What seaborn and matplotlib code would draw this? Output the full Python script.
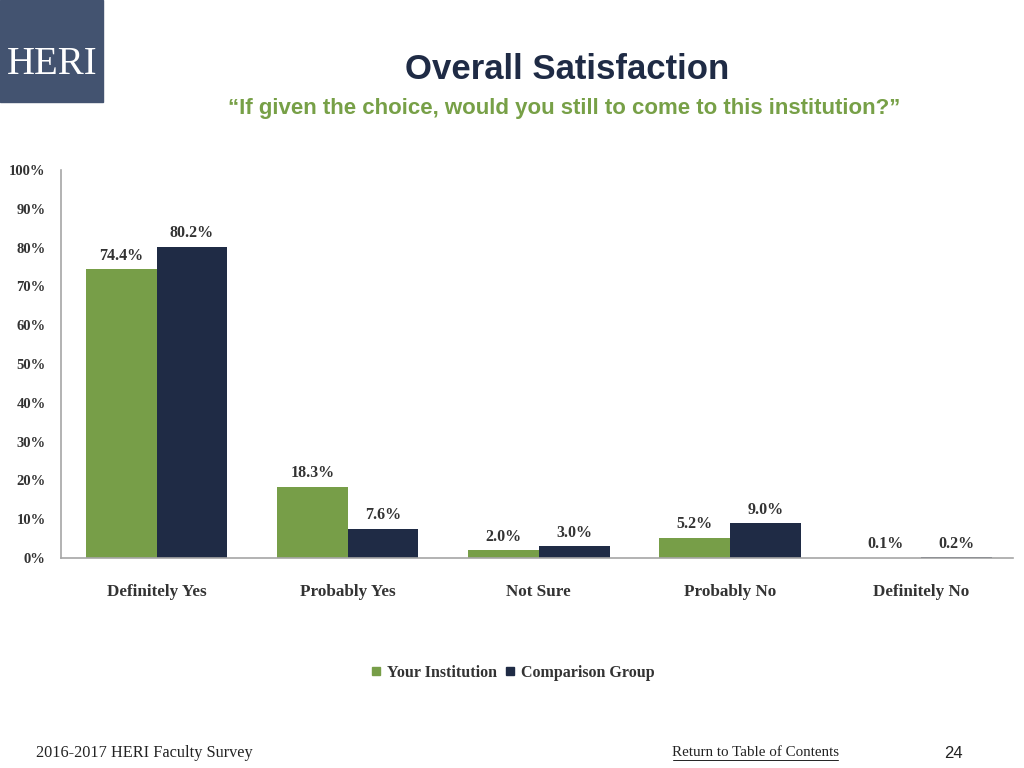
import pandas as pd
import numpy as np
import matplotlib
matplotlib.use('Agg')
import matplotlib.pyplot as plt
import seaborn as sns
from matplotlib.patches import Rectangle
from matplotlib.lines import Line2D

categories = ['Definitely Yes', 'Probably Yes', 'Not Sure', 'Probably No', 'Definitely No']
your_institution = [74.4, 18.3, 2.0, 5.2, 0.1]
comparison_group = [80.2, 7.6, 3.0, 9.0, 0.2]
series_names = ['Your Institution', 'Comparison Group']
y_ticks = [0, 10, 20, 30, 40, 50, 60, 70, 80, 90, 100]

green = '#779E48'
navy = '#1F2B45'

df = pd.DataFrame({
    'Response': categories * 2,
    'Percent': your_institution + comparison_group,
    'Group': [series_names[0]] * 5 + [series_names[1]] * 5,
})

sns.set_theme(style='white')
plt.rcParams['font.family'] = ['Liberation Serif', 'DejaVu Serif']

fig = plt.figure(figsize=(10.24, 7.68), dpi=100)
ax = fig.add_axes([0.0596, 0.2734, 0.9294, 0.5052])

sns.barplot(data=df, x='Response', y='Percent', hue='Group', order=categories,
            hue_order=series_names, palette=[green, navy], saturation=1,
            width=0.74, gap=0, linewidth=0, legend=False, ax=ax)

for cont in ax.containers:
    ax.bar_label(cont, fmt='%.1f%%', padding=4, fontsize=11.5,
                 fontweight='bold', color='#333333')

ax.set_ylim(0, 100)
ax.set_xlim(-0.5, 4.48)
ax.set_yticks(y_ticks)
ax.set_yticklabels([f'{t}%' for t in y_ticks], fontsize=10.5, fontweight='bold', color='#333333')
ax.tick_params(axis='x', labelsize=12.3, pad=18.5, colors='#333333', length=0)
ax.tick_params(axis='y', pad=11, length=0)
for lbl in ax.get_xticklabels():
    lbl.set_fontweight('bold')
ax.set_xlabel('')
ax.set_ylabel('')
for s in ['top', 'right']:
    ax.spines[s].set_visible(False)
for s in ['left', 'bottom']:
    ax.spines[s].set_color('#A6A6A6')
    ax.spines[s].set_linewidth(1.2)

# legend
handles = [Line2D([], [], marker='s', linestyle='', color=green, markersize=5.5),
           Line2D([], [], marker='s', linestyle='', color=navy, markersize=5.5)]
fig.legend(handles, series_names, loc='center', bbox_to_anchor=(0.5, 0.124), ncol=2,
           frameon=False, handletextpad=0.3, columnspacing=0.4, handlelength=0.8,
           prop={'family': 'Liberation Serif', 'weight': 'bold', 'size': 11.5},
           labelcolor='#333333')

# logo box
fig.patches.append(Rectangle((0, 1 - 102 / 768), 103 / 1024, 102 / 768,
                             transform=fig.transFigure, color='#435370', zorder=0))
fig.text(52 / 1024, 1 - 64 / 768, 'HERI', ha='center', va='center', color='white',
         fontsize=28, family='Liberation Serif')

# titles
fig.text(0.554, 1 - 69.5 / 768, 'Overall Satisfaction', ha='center', va='center',
         fontsize=25, fontweight='bold', color='#1F2B45',
         family=['Liberation Sans Narrow', 'Liberation Sans', 'DejaVu Sans'])
fig.text(0.551, 1 - 108.5 / 768, '\u201cIf given the choice, would you still to come to this institution?\u201d',
         ha='center', va='center', fontsize=16, fontweight='bold', color='#77A047',
         family=['Liberation Sans Narrow', 'Liberation Sans', 'DejaVu Sans'])

# footer
fig.text(36 / 1024, 1 - 753 / 768, '2016-2017 HERI Faculty Survey', ha='left', va='center',
         fontsize=11.7, color='#222222', family='Liberation Serif')
fig.text(755.5 / 1024, 1 - 753 / 768, 'Return to Table of Contents', ha='center', va='center',
         fontsize=10.8, color='#222222', family='Liberation Serif')
fig.add_artist(Line2D([673 / 1024, 838 / 1024], [1 - 760 / 768, 1 - 760 / 768],
                      color='#222222', linewidth=0.7))
fig.text(953 / 1024, 1 - 753 / 768, '24', ha='center', va='center',
         fontsize=12, color='#222222', family='Liberation Sans')

fig.savefig('out.png', dpi=100)
